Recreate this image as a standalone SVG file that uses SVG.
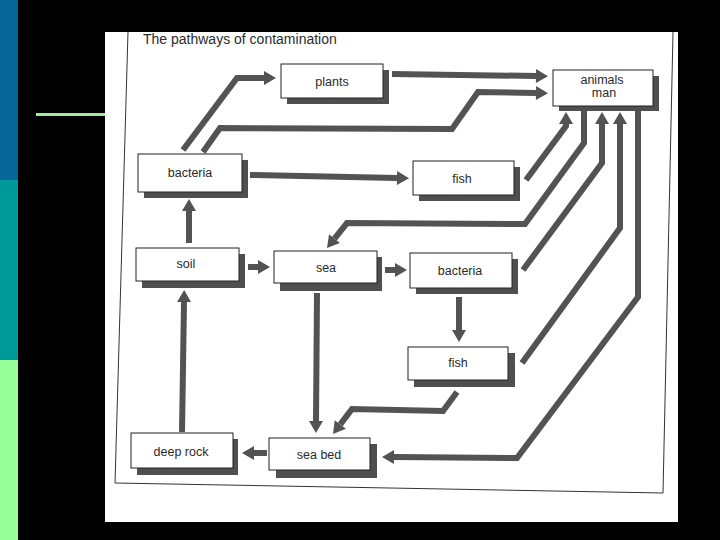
<svg xmlns="http://www.w3.org/2000/svg" width="720" height="540" viewBox="0 0 720 540">
  <style>
    .shadow { fill: #4f4f4f; }
    .box { fill: #ffffff; stroke: #222222; stroke-width: 1; }
    .lbl { font-family: "Liberation Sans", Arial, sans-serif; font-size: 12.5px; fill: #2a2a2a; text-anchor: middle; }
    .title { font-family: "Liberation Sans", Arial, sans-serif; font-size: 14px; fill: #2a2a2a; }
    .conn { fill: none; stroke: #535353; stroke-width: 6; stroke-linejoin: miter; }
  </style>
  <defs>
    <marker id="ah" markerUnits="userSpaceOnUse" markerWidth="14" markerHeight="14" refX="0" refY="7" orient="auto" overflow="visible">
      <path d="M0,0 L12,7 L0,14 Z" fill="#535353"/>
    </marker>
  </defs>

  <!-- background -->
  <rect x="0" y="0" width="720" height="540" fill="#000000"/>
  <rect x="0" y="0" width="18" height="180" fill="#08679a"/>
  <rect x="0" y="180" width="18" height="180" fill="#009999"/>
  <rect x="0" y="360" width="18" height="180" fill="#99ff99"/>
  <rect x="36" y="113" width="70" height="3" fill="#a0eaa0"/>

  <!-- paper -->
  <rect x="105" y="32" width="573" height="490" fill="#ffffff"/>
  <path d="M128,32 L115,483 L663,493 L673,32" fill="none" stroke="#333333" stroke-width="1"/>
  <text class="title" x="143" y="44">The pathways of contamination</text>

  <!-- connectors -->
  <g id="connectors" class="conn">
    <path d="M183,150 L237,78 L264,78" marker-end="url(#ah)"/>
    <path d="M203,152 L220,128 L452,129 L478,92 L536,93" marker-end="url(#ah)"/>
    <path d="M392,74 L536,76" marker-end="url(#ah)"/>
    <path d="M250,175 L397,178" marker-end="url(#ah)"/>
    <path d="M526,180 L566,126 L566,124" marker-end="url(#ah)"/>
    <path d="M584,110 L584,143 L525,224 L347,223 L334.5,238.6" marker-end="url(#ah)"/>
    <path d="M523,270 L602,163 L602,124" marker-end="url(#ah)"/>
    <path d="M522,363 L620,228 L620,124" marker-end="url(#ah)"/>
    <path d="M638,110 L638,297 L517,458 L394,457" marker-end="url(#ah)"/>
    <path d="M457,392 L443,411 L352,409 L340.3,424.4" marker-end="url(#ah)"/>
    <path d="M248,267 L258,267" marker-end="url(#ah)"/>
    <path d="M385,270 L395,270" marker-end="url(#ah)"/>
    <path d="M459,297 L459,330" marker-end="url(#ah)"/>
    <path d="M317,293 L316,421" marker-end="url(#ah)"/>
    <path d="M189,243 L189,211" marker-end="url(#ah)"/>
    <path d="M182,432 L184,302" marker-end="url(#ah)"/>
    <path d="M267,453 L254,453" marker-end="url(#ah)"/>
  </g>

  <!-- nodes -->
  <g id="plants">
    <rect class="shadow" x="287" y="70" width="102" height="34"/>
    <rect class="box" x="281" y="64" width="102" height="34"/>
    <text class="lbl" x="332" y="86">plants</text>
  </g>
  <g id="animals-man">
    <rect class="shadow" x="559" y="76" width="100" height="35"/>
    <rect class="box" x="553" y="70" width="100" height="36"/>
    <text class="lbl" x="602" y="84">animals</text>
    <text class="lbl" x="604" y="97">man</text>
  </g>
  <g id="bacteria-top">
    <rect class="shadow" x="144" y="160" width="104" height="38"/>
    <rect class="box" x="138" y="154" width="104" height="38"/>
    <text class="lbl" x="190" y="177">bacteria</text>
  </g>
  <g id="fish-top">
    <rect class="shadow" x="419" y="167" width="101" height="34"/>
    <rect class="box" x="413" y="161" width="101" height="34"/>
    <text class="lbl" x="462" y="183">fish</text>
  </g>
  <g id="soil">
    <rect class="shadow" x="142" y="254" width="103" height="34"/>
    <rect class="box" x="136" y="248" width="103" height="33"/>
    <text class="lbl" x="186" y="268">soil</text>
  </g>
  <g id="sea">
    <rect class="shadow" x="280" y="257" width="102" height="34"/>
    <rect class="box" x="274" y="251" width="103" height="32"/>
    <text class="lbl" x="326" y="272">sea</text>
  </g>
  <g id="bacteria-mid">
    <rect class="shadow" x="416" y="259" width="102" height="35"/>
    <rect class="box" x="410" y="253" width="102" height="35"/>
    <text class="lbl" x="460" y="275">bacteria</text>
  </g>
  <g id="fish-mid">
    <rect class="shadow" x="414" y="353" width="101" height="34"/>
    <rect class="box" x="408" y="347" width="100" height="33"/>
    <text class="lbl" x="458" y="367">fish</text>
  </g>
  <g id="deep-rock">
    <rect class="shadow" x="137" y="439" width="101" height="36"/>
    <rect class="box" x="131" y="433" width="102" height="35"/>
    <text class="lbl" x="181" y="456">deep rock</text>
  </g>
  <g id="sea-bed">
    <rect class="shadow" x="276" y="444" width="101" height="34"/>
    <rect class="box" x="269" y="438" width="101" height="32"/>
    <text class="lbl" x="319" y="459">sea bed</text>
  </g>
</svg>
